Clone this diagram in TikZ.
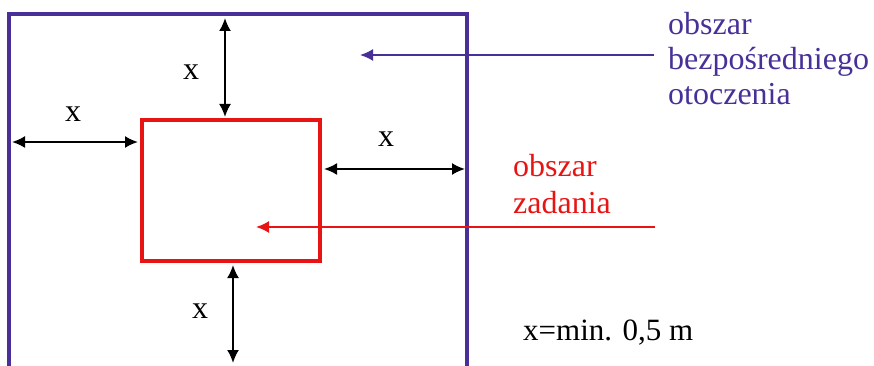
\documentclass[tikz,border=0pt]{standalone}
\usepackage{fontspec}
\setmainfont{Liberation Serif}
\usetikzlibrary{arrows.meta}
\definecolor{envcol}{RGB}{72,48,152}
\definecolor{taskcol}{RGB}{232,20,20}
\begin{document}
\begin{tikzpicture}[x=1pt,y=-1pt,
  area/.style={draw, line width=3.5pt, inner sep=0pt, outer sep=0pt},
  dim/.style={line width=2pt, {Latex[length=13pt,width=12pt]}-{Latex[length=13pt,width=12pt]}},
  lead/.style={line width=1.8pt, -{Latex[length=13pt,width=12pt]}},
  lbl/.style={font=\fontsize{32}{35}\selectfont, inner sep=0pt}]

\useasboundingbox (0,0) rectangle (874,366);
\clip (0,0) rectangle (874,366);

% Areas
\node[area, envcol, minimum width=458pt, minimum height=390pt] (env) at (238,209) {};
\node[area, taskcol, minimum width=178pt, minimum height=141pt] (task) at (231,190.5) {};

% Distances x
\coordinate (topx) at (225,0);
\coordinate (leftx) at (0,142);
\coordinate (rightx) at (0,169);
\coordinate (botx) at (233,0);
\coordinate (botend) at (233,363);
\draw[dim, shorten <=3pt, shorten >=4pt] (task.north -| topx) -- (env.north -| topx);
\draw[dim, shorten <=3pt, shorten >=4pt] (env.west |- leftx) -- (task.west |- leftx);
\draw[dim, shorten <=4pt, shorten >=2pt] (task.east |- rightx) -- (env.east |- rightx);
\draw[dim, shorten <=4pt] (task.south -| botx) -- (botend);

\node[lbl] (xtop) at (191,72.5) {x};
\node[lbl] (xleft) at (73,114.5) {x};
\node[lbl] (xright) at (386,139.5) {x};
\node[lbl] (xbot) at (200,311.5) {x};

% Labels of the areas
\node[lbl, envcol, anchor=west, align=left] (envlbl) at (668,59) {obszar\\bezpośredniego\\otoczenia};
\coordinate (envtip) at (360,55);
\draw[lead, envcol, shorten <=14pt] (envlbl.west |- envtip) -- (envtip);

\node[lbl, taskcol, anchor=west, align=left, font=\fontsize{32}{37}\selectfont] (tasklbl) at (513,184) {obszar\\zadania};
\coordinate (taskend) at (655,227);
\coordinate (tasktip) at (256,227);
\draw[lead, taskcol] (taskend) -- (tasktip);

\node[lbl, font=\fontsize{31}{35}\selectfont, anchor=base west] (minx) at (523,340) {x=min. 0,5 m};

\end{tikzpicture}
\end{document}
